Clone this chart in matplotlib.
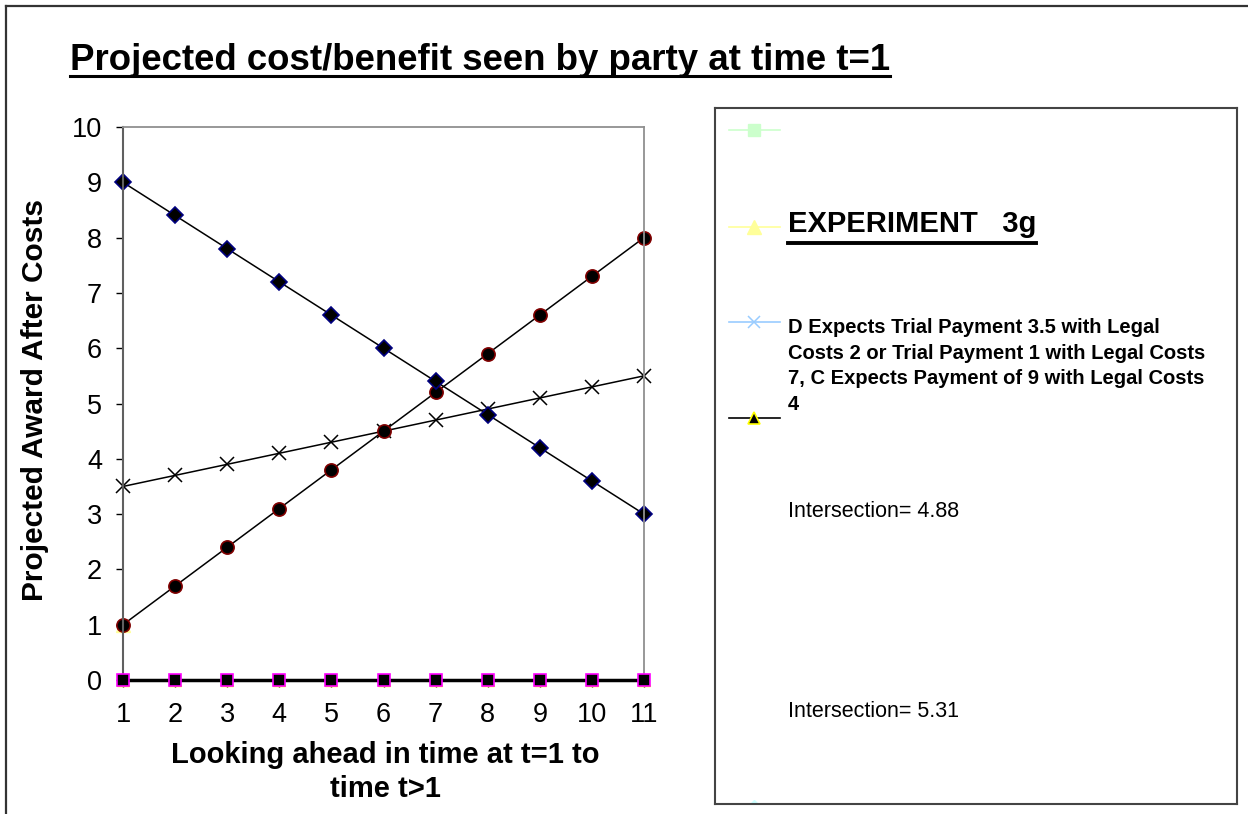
import matplotlib
matplotlib.use("Agg")
import matplotlib.pyplot as plt
from matplotlib.lines import Line2D

plt.rcParams['font.family'] = ['Liberation Sans', 'DejaVu Sans']

# data
steps = [1, 2, 3, 4, 5, 6, 7, 8, 9, 10, 11]
falling = [9.0, 8.4, 7.8, 7.2, 6.6, 6.0, 5.4, 4.8, 4.2, 3.6, 3.0]
rising = [1.0, 1.7, 2.4, 3.1, 3.8, 4.5, 5.2, 5.9, 6.6, 7.3, 8.0]
slow = [3.5, 3.7, 3.9, 4.1, 4.3, 4.5, 4.7, 4.9, 5.1, 5.3, 5.5]
zeros = [0, 0, 0, 0, 0, 0, 0, 0, 0, 0, 0]
first_x = [1]
first_y = [1.0]

title = "Projected cost/benefit seen by party at time t=1"
xlabel_lines = ["Looking ahead in time at t=1 to", "time t>1"]
ylabel = "Projected Award After Costs"
exp_name = "EXPERIMENT   3g"
d_lines = ["D Expects Trial Payment 3.5 with Legal",
           "Costs 2 or Trial Payment 1 with Legal Costs",
           "7, C Expects Payment of 9 with Legal Costs",
           "4"]
inter_labels = ["Intersection= 4.88", "Intersection= 5.31"]

W, H = 1248, 814
fig = plt.figure(figsize=(W / 100, H / 100), dpi=100)


def fx(px):
    return px / W


def fy(py):
    return 1 - py / H


# outer frame (runs off right and bottom edge)
fig.add_artist(Line2D([fx(6), fx(6)], [fy(6), 0], color='#333333', lw=1.6))
fig.add_artist(Line2D([fx(6), 1], [fy(6), fy(6)], color='#333333', lw=1.6))

ax = fig.add_axes([fx(123), fy(680), (644 - 123) / W, (680 - 127) / H])

ax.plot(first_x, first_y, marker='^', color='#ffff99', ms=10, ls='none', clip_on=False)
ax.plot(steps, zeros, color='black', lw=2.5, marker='^', ms=9,
        mfc='black', mec='#ffff00', clip_on=False, zorder=3)
ax.plot(steps, zeros, ls='none', marker='s', ms=8, mfc='black',
        mec='#ff00ff', mew=1.2, clip_on=False, zorder=4)
ax.plot(steps, slow, color='black', lw=1.1, marker='x', ms=10, mew=1.1, clip_on=False)
ax.plot(steps, rising, color='black', lw=1.1, marker='o', ms=9.5,
        mfc='black', mec='#800000', mew=1.2, clip_on=False)
ax.plot(steps, falling, color='black', lw=1.1, marker='D', ms=8,
        mfc='black', mec='#000080', mew=1.2, clip_on=False)

ax.set_xlim(1, 11)
ax.set_ylim(0, 10)
ax.set_xticks(steps)
ax.set_yticks(range(0, 11))
ax.tick_params(axis='both', direction='out', length=5, width=1, labelsize=19.5)
ax.tick_params(axis='y', pad=10)
ax.tick_params(axis='x', pad=11)
for s in ['top', 'right']:
    ax.spines[s].set_color('#909090')
    ax.spines[s].set_linewidth(1.3)
ax.spines['left'].set_color('#606060')
ax.spines['left'].set_linewidth(1.5)
ax.spines['bottom'].set_color('black')

t_title = fig.text(fx(70), fy(70), title, fontsize=26.4, fontweight='bold',
                   va='baseline', ha='left')
fig.text(fx(385), fy(755), xlabel_lines[0], fontsize=21, fontweight='bold',
         ha='center', va='center')
fig.text(fx(385), fy(789), xlabel_lines[1], fontsize=21, fontweight='bold',
         ha='center', va='center')
fig.text(fx(35), fy(400), ylabel, fontsize=21.5, fontweight='bold',
         rotation=90, ha='center', va='center')

# legend panel, in pixel units of its own box
lg = fig.add_axes([fx(715), fy(804), (1237 - 715) / W, (804 - 108) / H])
lg.set_xlim(0, 522)
lg.set_ylim(696, 0)
lg.set_xticks([])
lg.set_yticks([])
for s in lg.spines.values():
    s.set_color('#444444')
    s.set_linewidth(1.5)

hx = [14, 39, 65]
lg.plot(hx, [22, 22, 22], color='#ccffcc', lw=1.2)
lg.plot([39], [22], marker='s', ms=8.5, color='#ccffcc')
lg.plot(hx, [119, 119, 119], color='#ffff99', lw=1.2)
lg.plot([39], [119], marker='^', ms=10, color='#ffff99')
lg.plot(hx, [214, 214, 214], color='#99ccff', lw=1.2)
lg.plot([39], [214], marker='x', ms=9, mew=1.1, color='#99ccff')
lg.plot(hx, [310, 310, 310], color='black', lw=1.2)
lg.plot([39], [310], marker='^', ms=8, mfc='black', mec='#ffff00', mew=1.2)
lg.plot([39], [700], marker='D', ms=8, color='#ccffff')

t_exp = lg.text(73, 124, exp_name, fontsize=21, fontweight='bold', va='baseline')
for i, line in enumerate(d_lines):
    lg.text(73, 225 + i * 25.7, line, fontsize=14.5, fontweight='bold', va='baseline')
lg.text(73, 409, inter_labels[0], fontsize=15.5, va='baseline')
lg.text(73, 609, inter_labels[1], fontsize=15.5, va='baseline')

# underlines for the two underlined texts
fig.canvas.draw()
r = fig.canvas.get_renderer()
for t, gap, lw in [(t_title, 5.5, 2.2), (t_exp, 10.5, 2.8)]:
    bb = t.get_window_extent(r)
    base_py = H - t.get_transform().transform(t.get_position())[1]
    yy = fy(base_py + gap)
    fig.add_artist(Line2D([bb.x0 / W, bb.x1 / W], [yy, yy], color='black', lw=lw))

fig.savefig("out.png", dpi=100)
